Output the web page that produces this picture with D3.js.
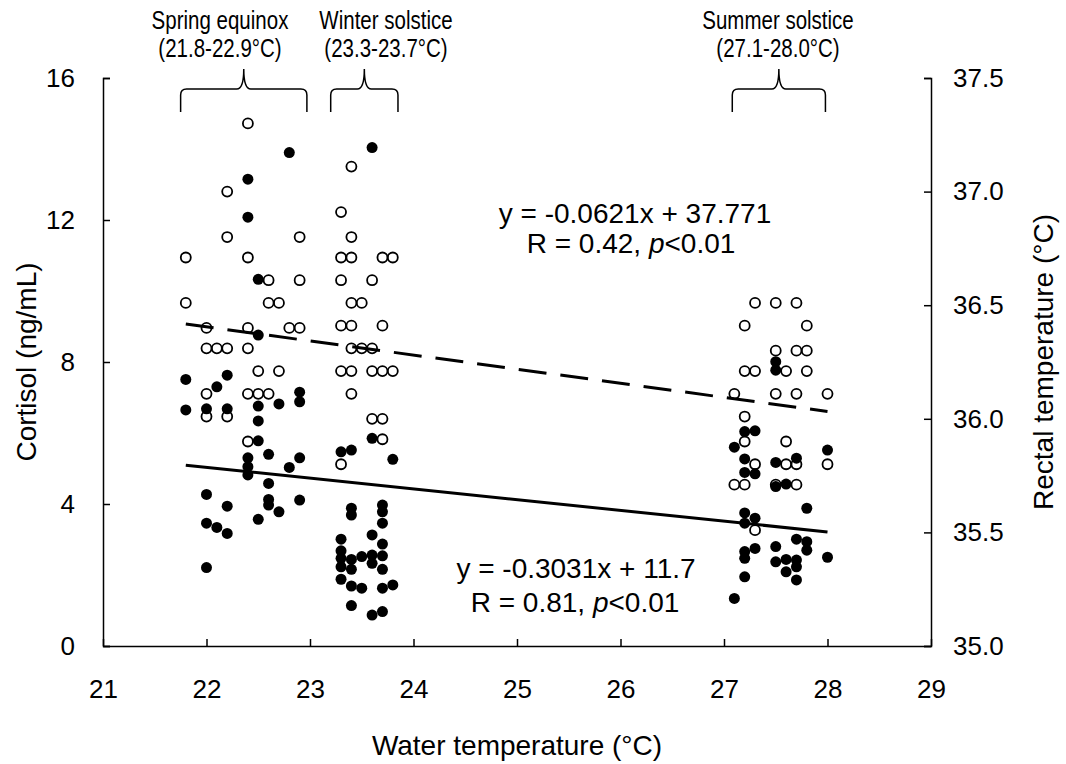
<!DOCTYPE html>
<html>
<head>
<meta charset="utf-8">
<script src="https://cdnjs.cloudflare.com/ajax/libs/d3/7.8.5/d3.min.js"></script>
<style>
	body { margin: 0; background: #fff; }
	text { font-family: "Liberation Sans", Arial, Helvetica, sans-serif; fill: #000; }
</style>
</head>
<body>
<svg id="chart" width="1066" height="764"></svg>
<script>
// open circles = rectal temperature (right axis), filled = cortisol (left axis)
var springRectal = [[22.4,37.30],[22.2,37.00],[22.2,36.80],[22.9,36.80],[21.8,36.71],[22.4,36.71],
	[22.6,36.61],[22.9,36.61],[21.8,36.51],[22.6,36.51],[22.7,36.51],[22.0,36.40],[22.4,36.40],
	[22.8,36.40],[22.9,36.40],[22.0,36.31],[22.1,36.31],[22.2,36.31],[22.4,36.31],[22.5,36.21],
	[22.7,36.21],[22.0,36.11],[22.4,36.11],[22.5,36.11],[22.6,36.11],[22.0,36.01],[22.2,36.01],
	[22.4,35.90]];
var springCortisol = [[22.8,13.9],[22.4,13.15],[22.4,12.08],[22.5,10.33],[22.5,8.76],[21.8,7.51],
	[22.2,7.63],[22.1,7.30],[22.9,7.15],[22.9,6.88],[21.8,6.65],[22.0,6.68],[22.2,6.68],[22.5,6.76],
	[22.7,6.82],[22.5,6.34],[22.5,5.78],[22.4,5.30],[22.6,5.40],[22.9,5.30],[22.8,5.03],[22.4,5.05],
	[22.4,4.82],[22.6,4.58],[22.0,4.27],[22.2,3.94],[22.6,4.13],[22.6,3.97],[22.7,3.78],[22.9,4.11],
	[22.5,3.57],[22.0,3.46],[22.1,3.34],[22.2,3.17],[22.0,2.21]];
var winterRectal = [[23.4,37.11],[23.3,36.91],[23.4,36.80],[23.3,36.71],[23.4,36.71],[23.7,36.71],
	[23.8,36.71],[23.3,36.61],[23.6,36.61],[23.4,36.51],[23.5,36.51],[23.3,36.41],[23.4,36.41],
	[23.7,36.41],[23.4,36.31],[23.5,36.31],[23.6,36.31],[23.3,36.21],[23.4,36.21],[23.6,36.21],
	[23.7,36.21],[23.8,36.21],[23.4,36.11],[23.6,36.00],[23.7,36.00],[23.7,35.91],[23.3,35.80]];
var winterCortisol = [[23.6,14.04],[23.6,5.85],[23.3,5.47],[23.4,5.52],[23.8,5.26],[23.4,3.88],
	[23.4,3.69],[23.7,3.97],[23.7,3.78],[23.7,3.46],[23.6,3.13],[23.3,3.01],[23.7,2.87],[23.3,2.68],
	[23.3,2.47],[23.3,2.23],[23.4,2.44],[23.4,2.16],[23.5,2.52],[23.6,2.56],[23.6,2.33],[23.7,2.54],
	[23.7,2.16],[23.3,1.88],[23.4,1.69],[23.5,1.63],[23.7,1.63],[23.8,1.72],[23.4,1.14],[23.6,0.87],
	[23.7,0.97]];
var summerRectal = [[27.3,36.51],[27.5,36.51],[27.7,36.51],[27.2,36.41],[27.8,36.41],[27.5,36.30],
	[27.7,36.30],[27.8,36.30],[27.2,36.21],[27.3,36.21],[27.6,36.21],[27.8,36.21],[27.1,36.11],
	[27.5,36.11],[27.7,36.11],[28.0,36.11],[27.2,36.01],[27.2,35.90],[27.6,35.90],[28.0,35.80],
	[27.3,35.80],[27.6,35.80],[27.7,35.80],[27.1,35.71],[27.2,35.71],[27.5,35.71],[27.7,35.71],
	[27.3,35.51]];
var summerCortisol = [[27.5,8.01],[27.5,7.77],[27.2,6.04],[27.3,6.06],[27.1,5.60],[28.0,5.52],
	[27.2,5.27],[27.5,5.17],[27.7,5.29],[27.2,4.89],[27.3,4.85],[27.5,4.49],[27.6,4.56],[27.8,3.88],
	[27.2,3.75],[27.3,3.60],[27.2,3.46],[27.7,3.01],[27.8,2.94],[27.8,2.70],[27.5,2.80],[27.3,2.75],
	[27.2,2.66],[27.2,2.47],[28.0,2.50],[27.5,2.37],[27.6,2.44],[27.7,2.42],[27.7,2.23],[27.6,2.09],
	[27.7,1.86],[27.2,1.95],[27.1,1.34]];

// regression: [slope, intercept]
var rectalFit = [-0.0621, 37.771];
var cortisolFit = [-0.3031, 11.7];
var fitRange = [21.8, 28.0];

var xTicks = [21,22,23,24,25,26,27,28,29];
var leftTicks = [0,4,8,12,16];
var rightTicks = [35.0,35.5,36.0,36.5,37.0,37.5];

var seasons = ["Spring equinox","Winter solstice","Summer solstice"];
var seasonRanges = ["(21.8-22.9\u00B0C)","(23.3-23.7\u00B0C)","(27.1-28.0\u00B0C)"];
var braceSpans = [[21.75,22.97],[23.2,23.85],[27.08,27.98]];
var labelCenters = [220,386,778];

var svg = d3.select("#chart");
var plotLeft = 103, plotRight = 931, plotTop = 78, plotBottom = 646;

var x = d3.scaleLinear().domain([21,29]).range([plotLeft,plotRight]);
var yL = d3.scaleLinear().domain([0,16]).range([plotBottom,plotTop]);
var yR = d3.scaleLinear().domain([35,37.5]).range([plotBottom,plotTop]);

// axes
var gx = svg.append("g")
	.attr("transform","translate(0,"+plotBottom+")")
	.call(d3.axisBottom(x).tickValues(xTicks).tickSizeInner(-7).tickSizeOuter(0).tickPadding(34));
var gl = svg.append("g")
	.attr("transform","translate("+plotLeft+",0)")
	.call(d3.axisLeft(yL).tickValues(leftTicks).tickSizeInner(-7).tickSizeOuter(-7).tickPadding(28));
var gr = svg.append("g")
	.attr("transform","translate("+plotRight+",0)")
	.call(d3.axisRight(yR).tickValues(rightTicks).tickFormat(d3.format(".1f")).tickSizeInner(-7).tickSizeOuter(-7).tickPadding(22));

[gx,gl,gr].forEach(function(g){
	g.selectAll("path, line").attr("stroke","#000").attr("stroke-width",1.5);
	g.selectAll("text").style("font-size","26px").attr("fill","#000")
		.style("font-family","'Liberation Sans', Arial, sans-serif");
});

// regression lines
function fitLine(fit, yScale){
	return fitRange.map(function(v){ return [x(v), yScale(fit[0]*v + fit[1])]; });
}
svg.append("path")
	.attr("d", d3.line()(fitLine(rectalFit, yR)))
	.attr("stroke","#000").attr("stroke-width",3).attr("fill","none")
	.attr("stroke-dasharray","28,14");
svg.append("path")
	.attr("d", d3.line()(fitLine(cortisolFit, yL)))
	.attr("stroke","#000").attr("stroke-width",3).attr("fill","none");

// points
var rectal = springRectal.concat(winterRectal, summerRectal);
var cortisol = springCortisol.concat(winterCortisol, summerCortisol);

svg.append("g").selectAll("circle")
	.data(rectal)
	.enter().append("circle")
	.attr("cx",function(d){ return x(d[0]); })
	.attr("cy",function(d){ return yR(d[1]); })
	.attr("r",5)
	.attr("fill","none")
	.attr("stroke","#000")
	.attr("stroke-width",1.8);

svg.append("g").selectAll("circle")
	.data(cortisol)
	.enter().append("circle")
	.attr("cx",function(d){ return x(d[0]); })
	.attr("cy",function(d){ return yL(d[1]); })
	.attr("r",5.5)
	.attr("fill","#000");

// season braces and labels
var braceY = 89, braceEnd = 112, braceTip = 69;
braceSpans.forEach(function(s,i){
	var x0 = x(s[0]), x1 = x(s[1]), xc = (x0+x1)/2;
	var p = "M"+x0+","+braceEnd+" L"+x0+","+(braceY+6)+" Q"+x0+","+braceY+" "+(x0+6)+","+braceY
		+" L"+(xc-7)+","+braceY+" Q"+xc+","+braceY+" "+xc+","+braceTip
		+" Q"+xc+","+braceY+" "+(xc+7)+","+braceY
		+" L"+(x1-6)+","+braceY+" Q"+x1+","+braceY+" "+x1+","+(braceY+6)+" L"+x1+","+braceEnd;
	svg.append("path").attr("d",p).attr("fill","none").attr("stroke","#000").attr("stroke-width",1.5);
	svg.append("text").attr("transform","translate("+labelCenters[i]+",29) scale(0.82,1)")
		.attr("text-anchor","middle").style("font-size","25px").text(seasons[i]);
	svg.append("text").attr("transform","translate("+labelCenters[i]+",57) scale(0.82,1)")
		.attr("text-anchor","middle").style("font-size","25px").text(seasonRanges[i]);
});

// regression labels
var eq1 = svg.append("text").attr("x",635).attr("y",223).attr("text-anchor","middle").style("font-size","28px");
eq1.text("y = -0.0621x + 37.771");
var r1 = svg.append("text").attr("x",631).attr("y",253).attr("text-anchor","middle").style("font-size","28px");
r1.append("tspan").text("R = 0.42, ");
r1.append("tspan").style("font-style","italic").text("p");
r1.append("tspan").text("<0.01");

var eq2 = svg.append("text").attr("x",576).attr("y",578).attr("text-anchor","middle").style("font-size","28px");
eq2.text("y = -0.3031x + 11.7");
var r2 = svg.append("text").attr("x",575).attr("y",612).attr("text-anchor","middle").style("font-size","28px");
r2.append("tspan").text("R = 0.81, ");
r2.append("tspan").style("font-style","italic").text("p");
r2.append("tspan").text("<0.01");

// axis titles
svg.append("text").attr("x",517).attr("y",755).attr("text-anchor","middle")
	.style("font-size","28px").text("Water temperature (\u00B0C)");
svg.append("text").attr("transform","translate(36,362) rotate(-90)").attr("text-anchor","middle")
	.style("font-size","28px").text("Cortisol (ng/mL)");
svg.append("text").attr("transform","translate(1053,362) rotate(-90)").attr("text-anchor","middle")
	.style("font-size","28px").text("Rectal temperature (\u00B0C)");
</script>
</body>
</html>
